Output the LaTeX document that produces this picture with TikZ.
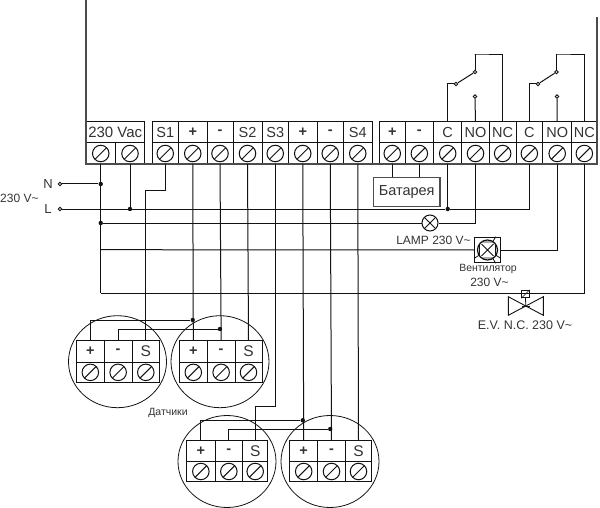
\documentclass[tikz,border=0pt]{standalone}
\usepackage{fontspec}
\setmainfont{Liberation Sans}
\usetikzlibrary{shapes.geometric,calc}
\definecolor{ink}{gray}{0.07}
\definecolor{txt}{gray}{0.2}
\definecolor{edge}{gray}{0.3}
\tikzset{
  wire/.style={draw=ink,line width=1pt},
  cell/.style={draw=ink,line width=1pt,rectangle,inner sep=0pt,outer sep=0pt,text=txt,font=\fontsize{14.5}{14.5}\selectfont},
  screw/.style={draw=ink,line width=1pt,circle,inner sep=0pt,outer sep=0pt,minimum size=16.5pt,
     path picture={\draw[line width=1pt,ink] (path picture bounding box.south west) -- (path picture bounding box.north east);}},
  dot/.style={fill=ink,circle,inner sep=0pt,minimum size=4.4pt},
  port/.style={draw=ink,fill=white,line width=0.8pt,circle,inner sep=0pt,minimum size=3.6pt},
  sensorring/.style={draw=ink,line width=0.8pt,ellipse,inner sep=0pt,minimum width=98pt,minimum height=92pt},
  lbl/.style={text=txt,inner sep=0pt,font=\fontsize{12}{12}\selectfont},
  small/.style={text=txt,inner sep=0pt,font=\fontsize{10.5}{10.5}\selectfont},
  frame/.style={draw=edge,line width=1.5pt},
}
% name, x0, x1, ytop, ymid, ybot, label
\newcommand\term[7]{%
  \pgfmathsetmacro\tcx{(#2+#3)/2}\pgfmathsetmacro\twd{#3-#2}%
  \pgfmathsetmacro\tyl{(#4+#5)/2}\pgfmathsetmacro\thl{#5-#4}%
  \pgfmathsetmacro\tys{(#5+#6)/2}\pgfmathsetmacro\ths{#6-#5}%
  \node[cell,minimum width=\twd pt,minimum height=\thl pt] (#1l) at (\tcx,\tyl) {#7};
  \node[cell,minimum width=\twd pt,minimum height=\ths pt] (#1b) at (\tcx,\tys) {};
  \node[screw] (#1c) at (\tcx,\tys) {};
}
\begin{document}
\begin{tikzpicture}[x=1pt,y=-1pt]
\useasboundingbox (0,0) rectangle (600,508);
% main strip
\term{va}{86}{115.5}{122}{143}{164}{}
\term{vb}{115.5}{144.5}{122}{143}{164}{}
\node[cell,fill=white,minimum width=58.5pt,minimum height=21pt,font=\fontsize{15}{15}\selectfont] (vac) at (115.25,132.5) {230 Vac};
\term{sa}{152}{178.5}{122}{143}{164}{S1}
\term{pa}{178.5}{207}{122}{143}{164}{\textbf{+}}
\term{ma}{207}{233}{122}{143}{164}{\textbf{-}}
\term{sb}{233}{262}{122}{143}{164}{S2}
\term{sc}{262}{288.5}{122}{143}{164}{S3}
\term{pb}{288.5}{317}{122}{143}{164}{\textbf{+}}
\term{mb}{317}{343.5}{122}{143}{164}{\textbf{-}}
\term{sd}{343.5}{372}{122}{143}{164}{S4}
\term{bp}{379.5}{405}{122}{143}{164}{\textbf{+}}
\term{bm}{405}{433.7}{122}{143}{164}{\textbf{-}}
\term{ca}{433.7}{461.7}{122}{143}{164}{C}
\term{na}{461.7}{489.3}{122}{143}{164}{NO}
\term{ncx}{489.3}{516}{122}{143}{164}{NC}
\term{cb}{516}{542.7}{122}{143}{164}{C}
\term{nb}{542.7}{571.7}{122}{143}{164}{NO}
\term{ncy}{571.7}{597}{122}{143}{164}{NC}
% housing
\coordinate (hl) at (86,0);
\coordinate (hr) at (597,17);
\draw[frame] (hl) -- (86,164) -- (597,164) -- (hr);
% relays
\coordinate (ra) at (475,72);
\coordinate (rb) at (556.5,72);
\node[port] (rac) at (456,84) {};
\node[port] (rbc) at (538,84) {};
\node[port] (ran) at (475,96.5) {};
\node[port] (rbn) at (557,96.5) {};
\node[port] (rat) at (ra) {};
\node[port] (rbt) at (rb) {};
\draw[wire] (cal.north) |- (rac.west);
\draw[wire] (cbl.north) |- (rbc.west);
\draw[wire] (rac) -- (rat);
\draw[wire] (rbc) -- (rbt);
\draw[wire] (nal.north) -- (ran.south);
\draw[wire] (nbl.north) -- (rbn.south);
\draw[wire] (rat.north) |- (474.7,55) -| (ncxl.north);
\draw[wire] (rbt.north) |- (556,55) -| (ncyl.north);
% mains
\node[port] (nN) at (60,184) {};
\node[port] (nL) at (60,209) {};
\node[lbl,font=\fontsize{13}{13}\selectfont] (tN) at (48,184.5) {N};
\node[lbl,font=\fontsize{13}{13}\selectfont] (tL) at (48,209.5) {L};
\node[lbl,anchor=west] (t230) at (0,198) {230 V\textasciitilde};
% loads
\node[draw=edge,line width=1.1pt,fill=white,minimum width=66.5pt,minimum height=29.5pt,inner sep=0pt,text=txt,font=\fontsize{14.5}{14.5}\selectfont] (bat) at (406.7,192) {Батарея};
\node[draw=ink,line width=1pt,circle,minimum size=16pt,inner sep=0pt,
   path picture={\draw[ink,line width=1pt] (path picture bounding box.south west) -- (path picture bounding box.north east)
     (path picture bounding box.north west) -- (path picture bounding box.south east);}] (lamp) at (430,223) {};
\node[lbl] (tlamp) at (433.5,240) {LAMP 230 V\textasciitilde};
\node[draw=ink,line width=1pt,fill=white,minimum size=25.5pt,inner sep=0pt] (fan) at (487.5,250) {};
\node[draw=ink,line width=1.2pt,circle,minimum size=20pt,inner sep=0pt] (fanr) at (fan) {};
\draw[ink,line width=0.8pt] ($(fan)+(-6,-6)$) -- ($(fan)+(6,6)$) ($(fan)+(-6,6)$) -- ($(fan)+(6,-6)$)
  ($(fan)+(-5,-8)$) -- ($(fan)+(5,-8)$) -- (fan) -- cycle
  ($(fan)+(-5,8)$) -- ($(fan)+(5,8)$) -- (fan) -- cycle
  ($(fan)+(-8,-5)$) -- ($(fan)+(-8,5)$) -- (fan) -- cycle
  ($(fan)+(8,-5)$) -- ($(fan)+(8,5)$) -- (fan) -- cycle;
\node[small] (tfan) at (488,268.5) {Вентилятор};
\node[lbl] (tfanv) at (489.5,282) {230 V\textasciitilde};
% valve
\coordinate (vv) at (525.8,306);
\draw[ink,line width=0.9pt] (vv) -- (508.3,296.7) -- (508.3,315.3) -- (543.3,296.7) -- (543.3,315.3) -- cycle;
\node[draw=ink,line width=0.8pt,fill=white,minimum size=7.5pt,inner sep=0pt] (vact) at (525.5,294) {};
\draw[ink,line width=0.8pt] (vact.south) -- (vv);
\draw[ink,line width=0.8pt] ($(vv)+(-4,0)$) -- ($(vv)+(4,0)$);
\draw[ink,line width=0.5pt] (vact.south west) -- (vact.north east);
\node[lbl,font=\fontsize{12.5}{12.5}\selectfont] (tev) at (525,325) {E.V. N.C. 230 V\textasciitilde};
\node[small] (tsens) at (168,413) {Датчики};
% sensors
\node[sensorring] (ra1) at (117.5,361.7) {};
\node[sensorring] (ra2) at (220,361.7) {};
\node[sensorring] (ra3) at (227,461.5) {};
\node[sensorring] (ra4) at (330,461.5) {};
\term{xp}{76.7}{104}{340}{362}{382.7}{\textbf{+}}
\term{xm}{104}{132.3}{340}{362}{382.7}{\textbf{-}}
\term{xs}{132.3}{159.3}{340}{362}{382.7}{\fontsize{15.5}{15.5}\selectfont S}
\term{yp}{179.3}{207.3}{340}{362}{382.7}{\textbf{+}}
\term{ym}{207.3}{235}{340}{362}{382.7}{\textbf{-}}
\term{ys}{235}{262}{340}{362}{382.7}{\fontsize{15.5}{15.5}\selectfont S}
\term{up}{186.7}{215}{440.7}{461.3}{481.7}{\textbf{+}}
\term{um}{215}{242.7}{440.7}{461.3}{481.7}{\textbf{-}}
\term{us}{242.7}{267.7}{440.7}{461.3}{481.7}{\fontsize{15.5}{15.5}\selectfont S}
\term{wp}{289.7}{317.7}{440.7}{461.3}{481.7}{\textbf{+}}
\term{wm}{317.7}{345.3}{440.7}{461.3}{481.7}{\textbf{-}}
\term{ws}{345.3}{371.7}{440.7}{461.3}{481.7}{\fontsize{15.5}{15.5}\selectfont S}
% battery
\draw[wire] (bpb.south) -- (bpb.south |- bat.north);
\draw[wire] (bmb.south) -- (bmb.south |- bat.north);
% mains wiring
\coordinate (yLamp) at (0,223);
\coordinate (yFan) at (0,249.7);
\coordinate (yValve) at (0,293);
\coordinate (yP1) at (0,320);
\coordinate (yM1) at (0,329);
\coordinate (yP2) at (0,420.3);
\coordinate (yM2) at (0,429);
\coordinate (yS3) at (0,406.3);
\coordinate (yS1) at (0,190.5);
\node[dot] (jN) at (vab.south |- nN) {};
\node[dot] (jL) at (vbb.south |- nL) {};
\node[dot] (jC) at (cab.south |- nL) {};
\node[dot] (jLamp) at (vab.south |- yLamp) {};
\draw[wire] (nN) -- (jN);
\draw[wire] (nL) -- (jL);
\draw[wire] (vbb.south) -- (jL);
\draw[wire] (jL) -- (jC);
\draw[wire] (jC) -| (cbb.south);
\draw[wire] (cab.south) -- (jC);
\draw[wire] (jLamp) -- (lamp.west);
\draw[wire] (lamp.east) -| (nab.south);
\draw[wire] (vab.south) -- (vab.south |- yValve);
\draw[wire] (vab.south |- yFan) -- (fan.west);
\draw[wire] (fan.east) -| (nbb.south);
\draw[wire] (vab.south |- yValve) -| (ncyb.south);
% sensor wiring
\node[dot] (jp1) at (pab.south |- yP1) {};
\node[dot] (jm1) at (mab.south |- yM1) {};
\node[dot] (jp2) at (pbb.south |- yP2) {};
\node[dot] (jm2) at (mbb.south |- yM2) {};
\draw[wire] (sab.south) |- (xsl.north |- yS1) -- (xsl.north);
\draw[wire] (pab.south) -- (ypl.north);
\draw[wire] (mab.south) -- (yml.north);
\draw[wire] (sbb.south) -- (ysl.north);
\draw[wire] (jp1) -| (xpl.north);
\draw[wire] (jm1) -| (xml.north);
\draw[wire] (scb.south) |- (usl.north |- yS3) -- (usl.north);
\draw[wire] (pbb.south) -- (wpl.north);
\draw[wire] (mbb.south) -- (wml.north);
\draw[wire] (sdb.south) -- (wsl.north);
\draw[wire] (jp2) -| (upl.north);
\draw[wire] (jm2) -| (uml.north);
\end{tikzpicture}
\end{document}
